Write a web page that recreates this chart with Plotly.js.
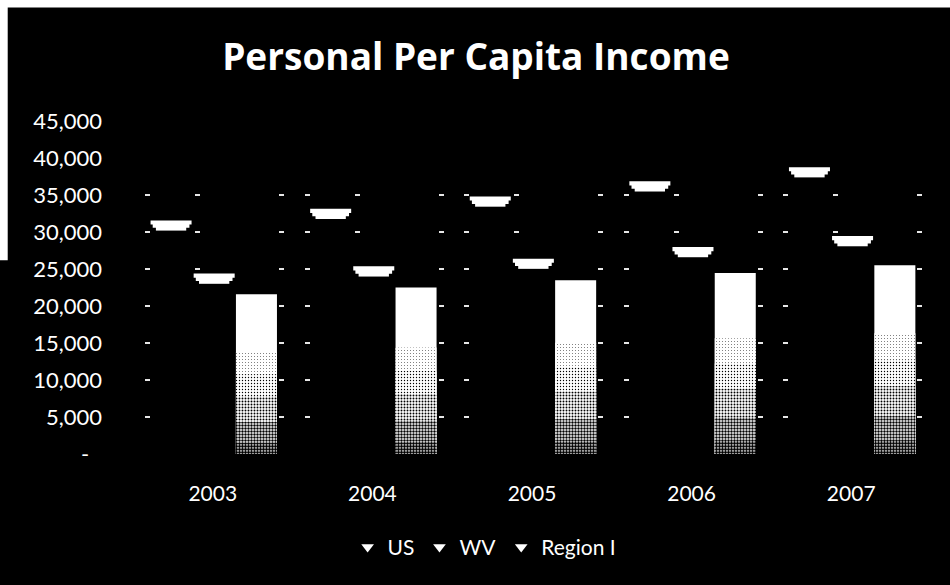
<!DOCTYPE html>
<html>
<head>
<meta charset="utf-8">
<script src="https://cdn.plot.ly/plotly-3.0.1.min.js"></script>
<style>
  html, body { margin: 0; padding: 0; background: #000; }
  #chart { width: 950px; height: 585px; }
</style>
</head>
<body>
<div id="chart"></div>
<script>
// ---- data ----
const years = ['2003', '2004', '2005', '2006', '2007'];
const usIncome = [31570, 33140, 34800, 36850, 38760];
const wvIncome = [24380, 25360, 26400, 27970, 29450];
const regionIncome = [21580, 22490, 23470, 24460, 25500];
const seriesNames = ['US', 'WV', 'Region I'];
const yTickVals = [0, 5000, 10000, 15000, 20000, 25000, 30000, 35000, 40000, 45000];
const yTickText = ['-\u2007', '5,000', '10,000', '15,000', '20,000', '25,000', '30,000', '35,000', '40,000', '45,000'];
const gridVals = [5000, 10000, 15000, 20000, 25000, 30000, 35000];

// ---- styling ----
const FONT = 'Lato, "Open Sans", "Noto Sans", sans-serif';
const TITLE_FONT = '"Open Sans", Lato, sans-serif';
const BAR_W = 0.257;
const OFF = { us: -0.39, wv: -0.12, region: 0.145 };
// stepped trapezoid for the top faces: [from, to] below the value (data units), width
const CAP_STEPS = [[0, 560, 0.257], [250, 1000, 0.23], [700, 1380, 0.19]];

const traces = [];

function body(vals, off, color, pattern) {
  const t = {
    type: 'bar', x: years, y: vals, width: BAR_W, offset: off,
    marker: { color: color, line: { width: 0 } },
    showlegend: false, hoverinfo: 'skip'
  };
  if (pattern) t.marker.pattern = pattern;
  return t;
}

// dark bodies of US and WV (invisible on black, but they hide grid dashes)
traces.push(body(usIncome, OFF.us, '#000'));
traces.push(body(wvIncome, OFF.wv, '#000'));
// Region body: white with a dithered darkening toward the base
traces.push(body(regionIncome, OFF.region, '#ffffff'));
const shades = [[0.64, 0.06], [0.5, 0.16], [0.36, 0.32], [0.2, 0.5], [0.07, 0.68]];
shades.forEach(([f, s]) => {
  traces.push(body(regionIncome.map(v => v * f), OFF.region, '#ffffff',
    { shape: '.', fgcolor: '#000', bgcolor: '#fff', size: 3, solidity: s }));
});

// top faces (caps) of US and WV
function caps(vals, off) {
  CAP_STEPS.forEach(([a, b, w]) => {
    traces.push({
      type: 'bar', x: years, y: vals.map(() => b - a), base: vals.map(v => v - b),
      width: w, offset: off + (BAR_W - w) / 2, marker: { color: '#fff', line: { width: 0 } },
      showlegend: false, hoverinfo: 'skip'
    });
  });
}
caps(usIncome, OFF.us);
caps(wvIncome, OFF.wv);

// legend entries
seriesNames.forEach((name) => {
  traces.push({
    type: 'scatter', mode: 'markers', x: [null], y: [null], name: name, yaxis: 'y2',
    marker: { symbol: 'triangle-down', size: 11, color: '#fff', line: { width: 0 } },
    hoverinfo: 'skip'
  });
});

const layout = {
  width: 950, height: 585,
  paper_bgcolor: '#000', plot_bgcolor: '#000',
  margin: { l: 133, r: 19, t: 120.5, b: 131 },
  barmode: 'overlay',
  font: { family: FONT, color: '#fff' },
  title: {
    text: 'Personal Per Capita Income',
    font: { family: TITLE_FONT, size: 37, color: '#fff', weight: 700 },
    xref: 'container', yref: 'container', x: 0.501, y: 0.903,
    xanchor: 'center', yanchor: 'middle'
  },
  xaxis: {
    type: 'category', range: [-0.5, 4.5], fixedrange: true,
    showgrid: false, zeroline: false, showline: false, ticks: '',
    tickfont: { family: FONT, size: 21, color: '#fff' },
    ticklabelstandoff: 25
  },
  yaxis: {
    range: [0, 45000], fixedrange: true,
    tickvals: yTickVals, ticktext: yTickText,
    showgrid: false, zeroline: false, showline: false, ticks: '',
    tickfont: { family: FONT, size: 22, color: '#fff' },
    ticklabelstandoff: 30
  },
  yaxis2: {
    overlaying: 'y', side: 'left', range: [0, 45000], fixedrange: true,
    tickvals: gridVals, showticklabels: false, ticks: '',
    showgrid: true, gridcolor: '#e6e6e6', gridwidth: 2,
    griddash: '0px,12px,5px,45px,5px,79px,5px,8.6px',
    zeroline: false, showline: false
  },
  legend: {
    orientation: 'h', x: 0.44, xanchor: 'center', y: -0.28, yanchor: 'middle',
    font: { family: FONT, size: 21, color: '#fff' },
    bgcolor: 'rgba(0,0,0,0)', itemwidth: 30
  },
  shapes: [
    { type: 'rect', xref: 'paper', yref: 'paper', x0: -0.17, x1: 1.03, y0: 1.341, y1: 1.37,
      fillcolor: '#fff', line: { width: 0 }, layer: 'below' },
    { type: 'rect', xref: 'paper', yref: 'paper', x0: -0.17, x1: -0.157, y0: 0.582, y1: 1.37,
      fillcolor: '#fff', line: { width: 0 }, layer: 'below' }
  ],
  showlegend: true
};

Plotly.newPlot('chart', traces, layout, { displayModeBar: false, staticPlot: true });
</script>
</body>
</html>
